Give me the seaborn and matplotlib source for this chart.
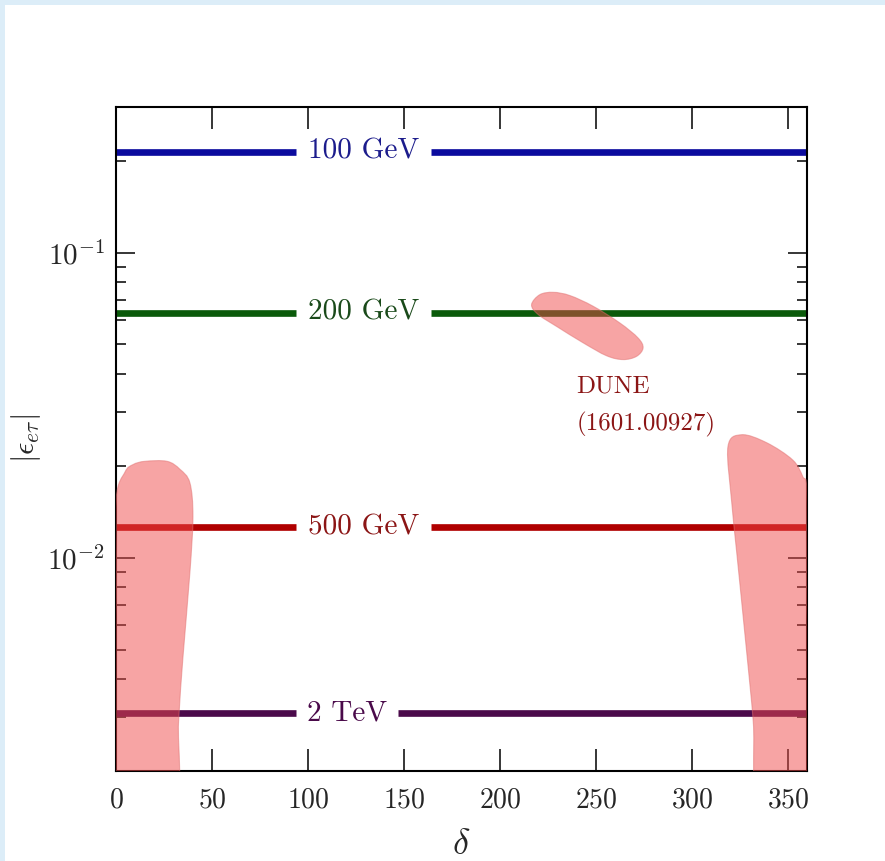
import numpy as np
import pandas as pd
import seaborn as sns
import matplotlib
matplotlib.use("Agg")
import matplotlib.pyplot as plt
from matplotlib.patches import Rectangle, PathPatch
from matplotlib.path import Path
from matplotlib.ticker import LogLocator, NullFormatter, NullLocator

# ---------------- data ----------------
masses = ["100 GeV", "200 GeV", "500 GeV", "2 TeV"]
eps_levels = [0.214, 0.0636, 0.0126, 0.0031]
gap_lo = [94, 94, 94, 94]
gap_hi = [164, 164, 164, 147]
label_delta = [129, 129, 129, 120.5]
line_colors = ["#0b0b9e", "#0a5a0a", "#b00000", "#4b0a4b"]
text_colors = ["#1c1c8c", "#1a4a1a", "#8b1515", "#4a0a4a"]

# DUNE allowed regions (outline points)
left_delta = [0, 0, 0, 4.7, 8.9, 15.1, 26.6, 33.3, 38.5, 40.1, 38.5, 34.9,
              32.6, 30.3]
left_eps = [0.0015, 0.008, 0.0155, 0.0191, 0.0202, 0.0207, 0.0207, 0.0195,
            0.0176, 0.0136, 0.00893, 0.00473, 0.0029, 0.0015]
right_delta = [325.9, 318.8, 320.8, 323.4, 328.6, 332.0, 335.0, 360, 360,
               360, 357.8, 352.6, 339.1]
right_eps = [0.0253, 0.0231, 0.01514, 0.01038, 0.00489, 0.0029, 0.0015,
             0.0015, 0.008, 0.0165, 0.01845, 0.0209, 0.0238]
mid_delta = [216.5, 220.8, 227.8, 236.5, 248.6, 262.5, 272.0, 274.6, 271.2,
             264.2, 255.6, 243.4, 229.5, 219.9]
mid_eps = [0.0675, 0.0728, 0.0741, 0.0723, 0.0667, 0.0588, 0.0525, 0.0487,
           0.0457, 0.0446, 0.0459, 0.0506, 0.0573, 0.0627]

dune_label = "DUNE\n(1601.00927)"
dune_label_pos = (240, 0.0395)

x_ticks = [0, 50, 100, 150, 200, 250, 300, 350]

# ---------------- style ----------------
sns.set_style("ticks")
plt.rcParams.update({
    "font.family": "serif",
    "font.serif": ["cmr10", "DejaVu Serif"],
    "mathtext.fontset": "cm",
    "axes.formatter.use_mathtext": True,
    "axes.linewidth": 1.5,
    "axes.edgecolor": "black",
})

fig = plt.figure(figsize=(8.85, 8.61), dpi=100)
fig.patch.set_facecolor("#dcedf8")
fig.add_artist(Rectangle((5 / 885, 0), 1, (861 - 5) / 861,
                         transform=fig.transFigure, facecolor="white",
                         edgecolor="none", zorder=-10))
ax = fig.add_axes([116 / 885, (861 - 771) / 861, 691 / 885, 664 / 861])
ax.set_facecolor("white")

# horizontal lines (each split in two segments around the label)
rows = []
for m, e, lo, hi in zip(masses, eps_levels, gap_lo, gap_hi):
    rows += [dict(mass=m, seg=m + "a", delta=0, eps=e),
             dict(mass=m, seg=m + "a", delta=lo, eps=e),
             dict(mass=m, seg=m + "b", delta=hi, eps=e),
             dict(mass=m, seg=m + "b", delta=360, eps=e)]
df = pd.DataFrame(rows)
sns.lineplot(data=df, x="delta", y="eps", hue="mass", units="seg",
             estimator=None, sort=False, palette=dict(zip(masses, line_colors)),
             linewidth=4.8, legend=False, ax=ax, solid_capstyle="butt", zorder=2)

for m, e, xd, c in zip(masses, eps_levels, label_delta, text_colors):
    ax.text(xd, e, m, ha="center", va="center", fontsize=21, color=c, zorder=4)


def smooth_region(dx, ey):
    """Closed Bezier outline through the given points (in log-eps space)."""
    P = np.column_stack([np.asarray(dx, float), np.log10(ey)])
    n = len(P)
    verts = [P[0]]
    codes = [Path.MOVETO]
    for i in range(n):
        p0, p1, p2, p3 = P[i - 1], P[i], P[(i + 1) % n], P[(i + 2) % n]
        verts += [p1 + (p2 - p0) / 6, p2 - (p3 - p1) / 6, p2]
        codes += [Path.CURVE4] * 3
    V = np.array(verts)
    V[:, 1] = 10 ** V[:, 1]
    return Path(V, codes)


for dx, ey in [(left_delta, left_eps), (right_delta, right_eps),
               (mid_delta, mid_eps)]:
    ax.add_patch(PathPatch(smooth_region(dx, ey), facecolor="#f04b4b",
                           alpha=0.5, edgecolor="#e07070", linewidth=0.8,
                           zorder=3, transform=ax.transData))

ax.text(dune_label_pos[0], dune_label_pos[1], dune_label, ha="left", va="top",
        fontsize=18, color="#8b1515", linespacing=1.75, zorder=4)

ax.set_yscale("log")
ax.set_xlim(0, 360)
ax.set_ylim(0.002, 0.3)
ax.set_xticks(x_ticks)
ax.xaxis.set_minor_locator(NullLocator())
ax.yaxis.set_major_locator(LogLocator(base=10, numticks=10))
ax.yaxis.set_minor_locator(LogLocator(base=10, subs=np.arange(2, 10), numticks=20))
ax.yaxis.set_minor_formatter(NullFormatter())

ax.tick_params(axis="x", which="major", direction="in", length=16, width=1.3,
               top=True, bottom=True, labelsize=20, pad=12)
ax.tick_params(axis="y", which="major", direction="in", length=14, width=1.3,
               left=True, right=True, labelsize=21, pad=8)
ax.tick_params(axis="y", which="minor", direction="in", length=7, width=1.3,
               left=True, right=True)

ax.set_xlabel(r"$\delta$", fontsize=26)
ax.set_ylabel(r"$|\epsilon_{e\tau}|$", fontsize=22)
ax.xaxis.set_label_coords(0.5, -0.088)
ax.yaxis.set_label_coords(-0.13, 0.5)
ax.yaxis.label.set_va("center")

fig.savefig("out.png", dpi=100, facecolor=fig.get_facecolor())
